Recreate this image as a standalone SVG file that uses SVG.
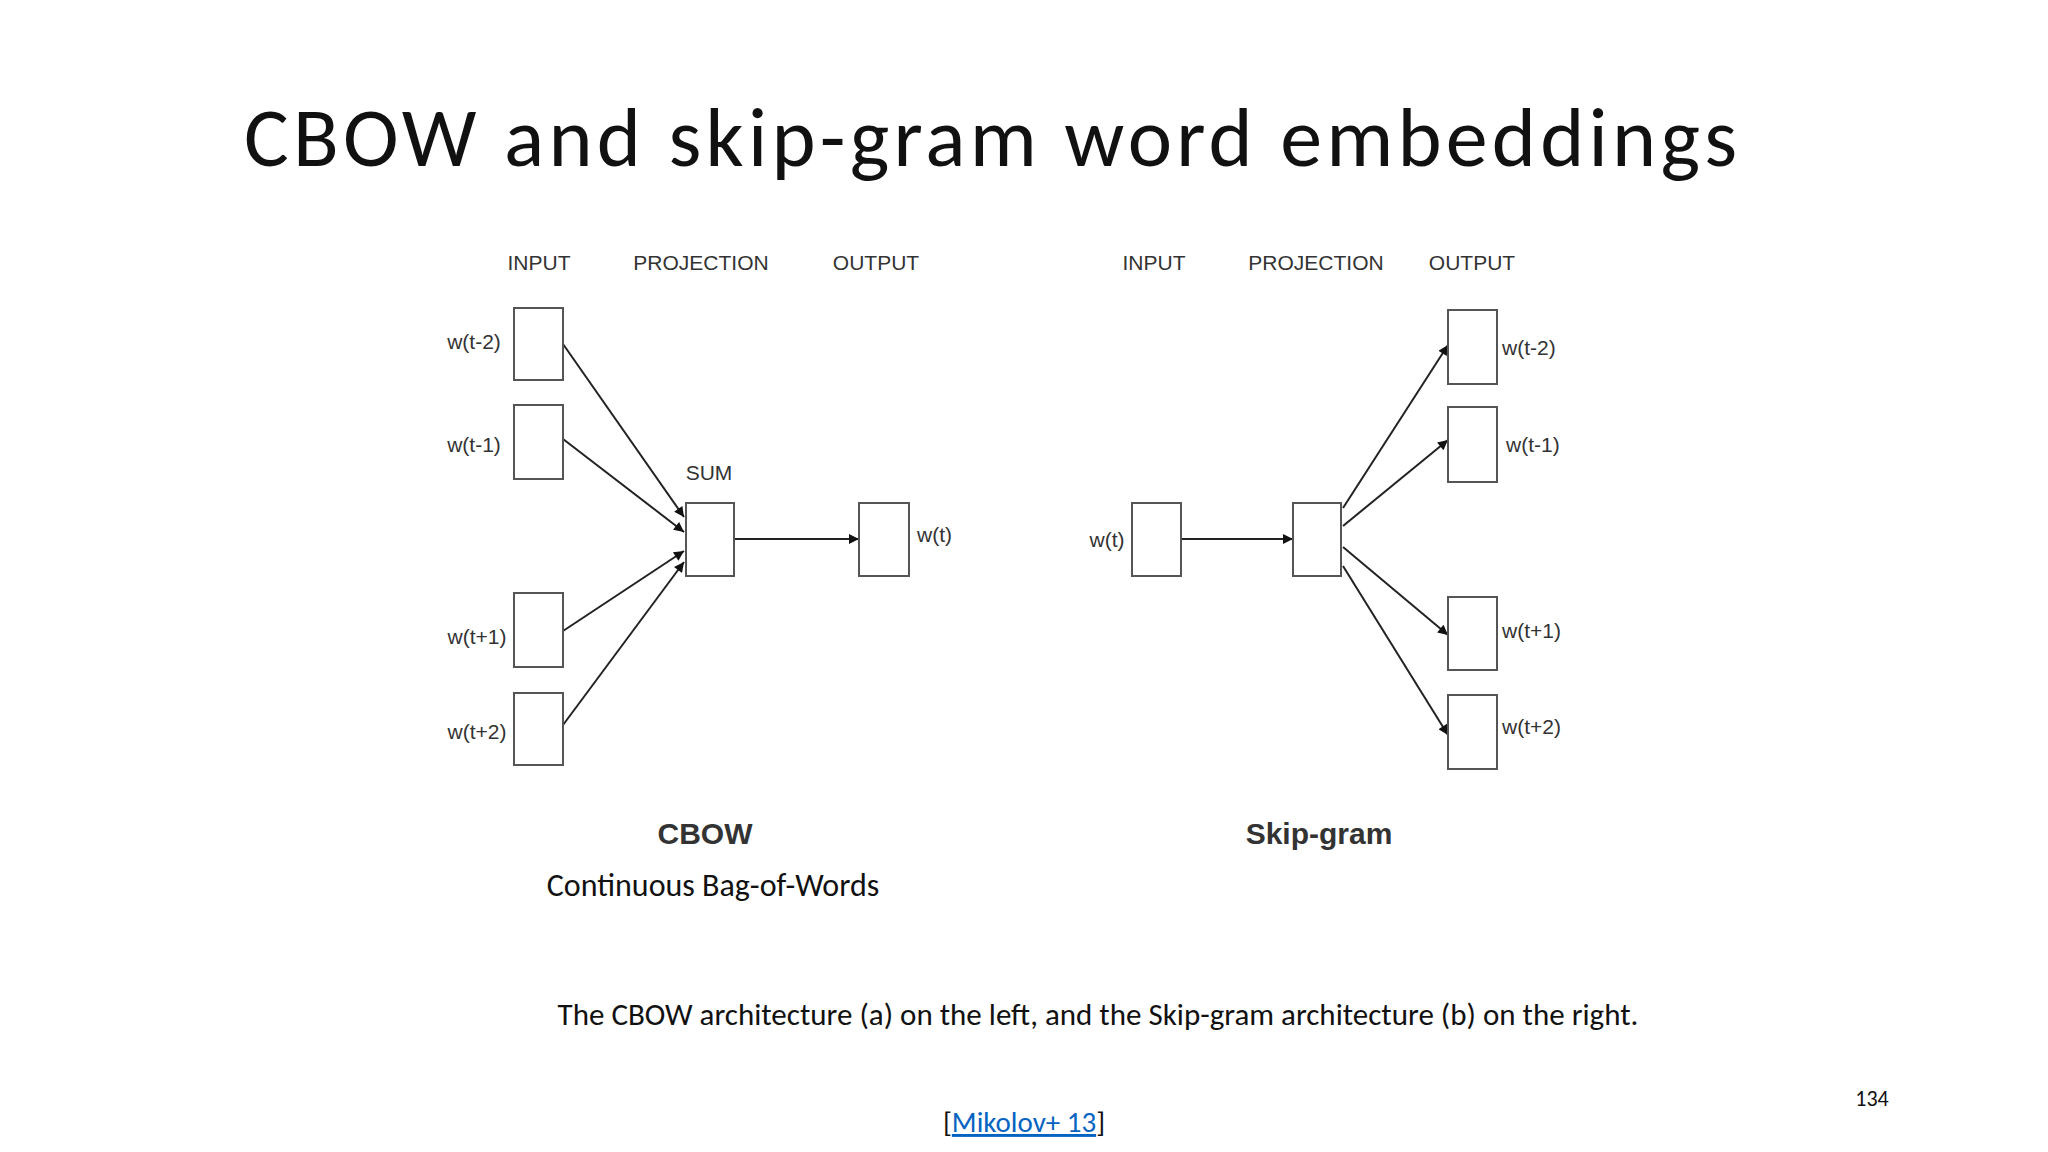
<svg xmlns="http://www.w3.org/2000/svg" width="2048" height="1152" viewBox="0 0 2048 1152">
<style>
.b{fill:#fff;stroke:#555;stroke-width:2}
.l{font-family:"Liberation Sans",Arial,sans-serif;font-size:21px;fill:#333}
.c{stroke:#222;stroke-width:2;fill:none;marker-end:url(#ah)}
.t{font-family:Carlito,"Open Sans",sans-serif;fill:#111}
</style>
<defs><marker id="ah" viewBox="0 0 10 10" refX="10" refY="5" markerWidth="14" markerHeight="10" markerUnits="userSpaceOnUse" orient="auto"><path d="M0,0L10,5L0,10z" fill="#111"/></marker></defs>
<rect width="2048" height="1152" fill="#fff"/>
<text class="t" x="244" y="166" font-size="84" font-weight="300" textLength="1493">CBOW and skip-gram word embeddings</text>
<g id="headers" class="l" text-anchor="middle">
<text x="539" y="270">INPUT</text><text x="701" y="270">PROJECTION</text><text x="876" y="270">OUTPUT</text>
<text x="1154" y="270">INPUT</text><text x="1316" y="270">PROJECTION</text><text x="1472" y="270">OUTPUT</text>
</g>
<g id="connectors">
<line class="c" x1="563" y1="344" x2="684" y2="517"/>
<line class="c" x1="563" y1="439" x2="684" y2="532"/>
<line class="c" x1="563" y1="631" x2="684" y2="551"/>
<line class="c" x1="563" y1="725" x2="684" y2="562"/>
<line class="c" x1="734" y1="539" x2="859" y2="539"/>
<line class="c" x1="1181" y1="539" x2="1293" y2="539"/>
<line class="c" x1="1343" y1="508" x2="1448" y2="345"/>
<line class="c" x1="1343" y1="526" x2="1448" y2="440"/>
<line class="c" x1="1343" y1="547" x2="1448" y2="635"/>
<line class="c" x1="1343" y1="566" x2="1448" y2="735"/>
</g>
<g id="c-in1"><rect class="b" x="514" y="308" width="49" height="72"/><text class="l" x="474" y="349" text-anchor="middle">w(t-2)</text></g>
<g id="c-in2"><rect class="b" x="514" y="405" width="49" height="74"/><text class="l" x="474" y="452" text-anchor="middle">w(t-1)</text></g>
<g id="c-in3"><rect class="b" x="514" y="593" width="49" height="74"/><text class="l" x="477" y="644" text-anchor="middle">w(t+1)</text></g>
<g id="c-in4"><rect class="b" x="514" y="693" width="49" height="72"/><text class="l" x="477" y="739" text-anchor="middle">w(t+2)</text></g>
<g id="c-sum"><rect class="b" x="686" y="503" width="48" height="73"/><text class="l" x="709" y="480" text-anchor="middle">SUM</text></g>
<g id="c-out"><rect class="b" x="859" y="503" width="50" height="73"/><text class="l" x="917" y="542">w(t)</text></g>
<g id="s-in"><rect class="b" x="1132" y="503" width="49" height="73"/><text class="l" x="1107" y="547" text-anchor="middle">w(t)</text></g>
<g id="s-proj"><rect class="b" x="1293" y="503" width="48" height="73"/></g>
<g id="s-out1"><rect class="b" x="1448" y="310" width="49" height="74"/><text class="l" x="1502" y="355">w(t-2)</text></g>
<g id="s-out2"><rect class="b" x="1448" y="407" width="49" height="75"/><text class="l" x="1506" y="452">w(t-1)</text></g>
<g id="s-out3"><rect class="b" x="1448" y="597" width="49" height="73"/><text class="l" x="1502" y="638">w(t+1)</text></g>
<g id="s-out4"><rect class="b" x="1448" y="695" width="49" height="74"/><text class="l" x="1502" y="734">w(t+2)</text></g>
<g id="titles" font-family="'Liberation Sans',Arial,sans-serif" font-weight="bold" font-size="30" fill="#333" text-anchor="middle">
<text x="705" y="844">CBOW</text><text x="1319" y="844">Skip-gram</text>
</g>
<text class="t" x="713" y="896" font-size="32" text-anchor="middle">Continuous Bag-of-Words</text>
<text class="t" x="1098" y="1025" font-size="31" text-anchor="middle">The CBOW architecture (a) on the left, and the Skip-gram architecture (b) on the right.</text>
<text class="t" x="1024" y="1132" font-size="29" text-anchor="middle">[<tspan fill="#0563c1" text-decoration="underline">Mikolov+ 13</tspan>]</text>
<text class="t" x="1872" y="1106" font-size="22" fill="#888" text-anchor="middle">134</text>
</svg>
